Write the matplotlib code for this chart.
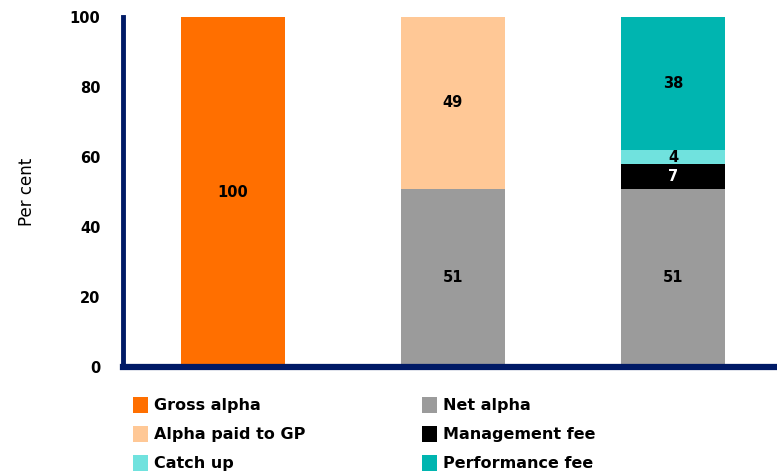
import matplotlib
matplotlib.use("Agg")
import matplotlib.pyplot as plt
import numpy as np

# Stacked composition of returns (per cent)
bars = ["Gross", "Net/GP", "Fees"]
gross_alpha = [100, 0, 0]
net_alpha = [0, 51, 51]
alpha_paid_gp = [0, 49, 0]
management_fee = [0, 0, 7]
catch_up = [0, 0, 4]
performance_fee = [0, 0, 38]
y_ticks = [0, 20, 40, 60, 80, 100]

series = [
    ("Gross alpha", gross_alpha, "#FF6F00", "black"),
    ("Net alpha", net_alpha, "#9B9B9B", "black"),
    ("Alpha paid to GP", alpha_paid_gp, "#FFC896", "black"),
    ("Management fee", management_fee, "#000000", "white"),
    ("Catch up", catch_up, "#70E2DE", "black"),
    ("Performance fee", performance_fee, "#00B5B0", "black"),
]

fig = plt.figure(figsize=(7.77, 4.76), dpi=100)
ax = fig.add_axes([0.158, 0.229, 0.85, 0.735])

x = np.arange(len(bars))
bottom = np.zeros(len(bars))
handles = {}
for name, vals, color, tcol in series:
    vals = np.array(vals, dtype=float)
    h = ax.bar(x, vals, width=0.475, bottom=bottom, color=color, edgecolor="none")
    handles[name] = h
    for xi, v, b in zip(x, vals, bottom):
        if v > 0:
            ax.text(xi, b + v / 2, f"{int(v)}", ha="center", va="center",
                    fontsize=10.5, fontweight="bold", color=tcol)
    bottom += vals

ax.set_xlim(-0.5, 2.5)
ax.set_ylim(0, 100)
ax.set_yticks(y_ticks)
ax.set_yticklabels([str(t) for t in y_ticks], fontsize=10.5, fontweight="bold")
ax.set_xticks([])
ax.tick_params(axis="y", length=0, pad=16)
ax.set_ylabel("Per cent", fontsize=12, labelpad=24)

navy = "#001A66"
for s in ["top", "right"]:
    ax.spines[s].set_visible(False)
ax.spines["left"].set_color(navy)
ax.spines["left"].set_linewidth(3.5)
ax.spines["bottom"].set_color(navy)
ax.spines["bottom"].set_linewidth(4.5)

order = ["Gross alpha", "Alpha paid to GP", "Catch up",
         "Net alpha", "Management fee", "Performance fee"]
fig.legend([handles[n] for n in order], order, ncol=2, loc="upper left",
           bbox_to_anchor=(0.163, 0.18), frameon=False,
           prop={"size": 11.5, "weight": "bold"},
           handlelength=0.95, handleheight=1.2, handletextpad=0.35,
           columnspacing=7.3, labelspacing=0.78, borderaxespad=0)

fig.savefig("out.png", dpi=100)
